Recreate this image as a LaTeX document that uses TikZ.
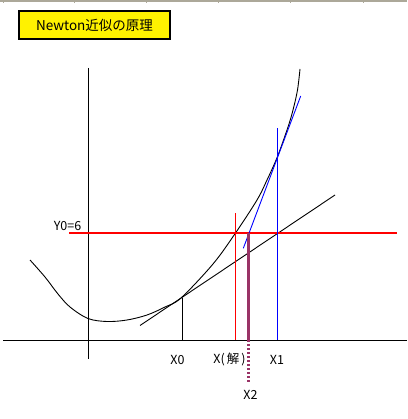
\documentclass[tikz,border=0pt]{standalone}
\usepackage{fontspec}
\newfontfamily\cjk{Noto Sans CJK JP}
\definecolor{plum}{RGB}{153,51,102}
\definecolor{framegray}{RGB}{172,168,153}
\begin{document}
\begin{tikzpicture}[x=1pt,y=-1pt,
  lbl/.style={font=\cjk\fontsize{12.5}{14}\selectfont, inner sep=0pt},
  titlebox/.style={draw=black, line width=1.2pt, fill=yellow, minimum width=151pt, minimum height=28pt, inner sep=0pt, font=\cjk\fontsize{13.5}{15}\selectfont},
  blackline/.style={black, line width=0.9pt},
  redthick/.style={red, line width=2.2pt},
  redthin/.style={red, line width=0.9pt},
  bluethin/.style={blue, line width=0.9pt},
  plumsolid/.style={plum, line width=2.6pt},
  plumdots/.style={plum, line width=2.6pt, dash pattern=on 2pt off 2pt},
  frameline/.style={framegray, line width=1.5pt}]
\useasboundingbox (0,0) rectangle (407,419);
\fill[white] (0,0) rectangle (407,419);
% spreadsheet frame at the top
\draw[frameline] (0,1) -- (407,1);
\foreach \x in {3,74,146,218,290,363} \draw[framegray, line width=1pt] (\x,0) -- (\x,3);
% title
\node[titlebox] (title) at (94.5,25) {Newton近似の原理};
% axes
\coordinate (xl) at (3,340);
\coordinate (xr) at (407,340);
\coordinate (yt) at (88,68);
\coordinate (yb) at (88,359);
\draw[blackline] (xl) -- (xr);
\draw[blackline] (yt) -- (yb);
% curve
\draw[blackline] plot[smooth, tension=0.55] coordinates {(30,260) (45,277) (58,294) (70,307) (88,318.5) (107,321.5) (127,320) (147,315) (165,307) (181,298) (213,264) (235.3,233.3) (257,200) (267,180) (277.3,157) (288,127) (293,110) (297.5,90) (300,69)};
% tangent at X0
\coordinate (x0top) at (182,297.5);
\coordinate (x0bot) at (182,340);
\coordinate (t1a) at (140,325.5);
\coordinate (t1b) at (335,195);
\draw[blackline] (x0top) -- (x0bot);
\draw[blackline] (t1a) -- (t1b);
% target level Y0
\coordinate (y0l) at (69,233.3);
\coordinate (y0r) at (397,233.3);
\draw[redthick] (y0l) -- (y0r);
\node[lbl] (y0lab) at (67.5,225.5) {Y0=6};
% solution X
\coordinate (xstop) at (235.3,213.3);
\coordinate (xsbot) at (235.3,340);
\draw[redthin] (xstop) -- (xsbot);
% X1 and tangent at X1
\coordinate (x1top) at (277.3,128.3);
\coordinate (x1bot) at (277.3,340);
\draw[bluethin] (x1top) -- (x1bot);
\coordinate (t2a) at (243.3,248.3);
\coordinate (t2b) at (300.7,96);
\draw[bluethin] (t2a) -- (t2b);
% X2
\coordinate (x2top) at (248.3,233.3);
\coordinate (x2axis) at (248.3,340);
\coordinate (x2bot) at (248.3,383);
\draw[plumsolid] (x2top) -- (x2axis);
\draw[plumdots] (x2axis) -- (x2bot);
% labels
\node[lbl] (x0lab) at (177.5,359.5) {X0};
\node[lbl] (xslab) at (229.5,359.5) {X(\,解\,)};
\node[lbl] (x1lab) at (277,359.5) {X1};
\node[lbl] (x2lab) at (250.5,395) {X2};
\end{tikzpicture}
\end{document}
